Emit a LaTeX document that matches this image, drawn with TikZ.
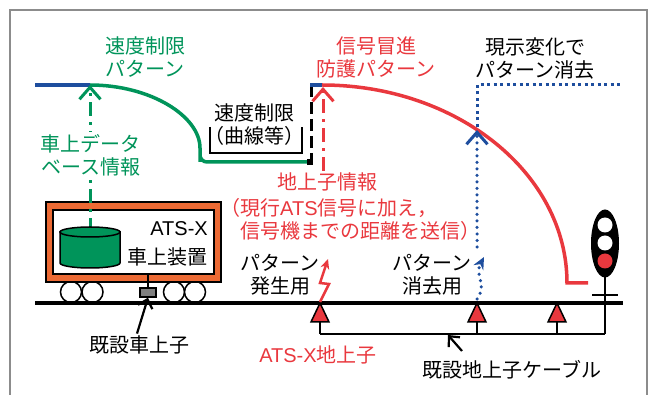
\documentclass[tikz,border=0pt]{standalone}
\usepackage{fontspec}
\setmainfont{Noto Sans CJK JP}
\newfontfamily\lat{Liberation Sans}
\usetikzlibrary{arrows.meta,calc}
\definecolor{pgreen}{RGB}{0,148,90}
\definecolor{pred}{RGB}{233,56,62}
\definecolor{pblue}{RGB}{30,78,158}
\definecolor{porange}{RGB}{236,106,52}
\definecolor{pframe}{RGB}{140,140,140}
\begin{document}
\begin{tikzpicture}[x=1pt,y=-1pt,
  lbl/.style={font=\fontsize{20}{23}\selectfont, align=center, inner sep=0pt},
  chev/.style={-{Straight Barb[length=12pt,width=21pt,line width=3pt]}},
  chevk/.style={-{Straight Barb[length=8pt,width=15pt,line width=2.2pt]}, line width=2.2pt},
  dashdot/.style={dash pattern=on 14pt off 6pt on 3pt off 6pt},
  bluedots/.style={pblue, line width=3.5pt, line cap=round, dash pattern=on 0pt off 6.5pt},
  thin/.style={line width=1.5pt},
  coil/.style={thin, fill=pred},
]
\useasboundingbox (0,0) rectangle (649,395);

% outer frame
\draw[pframe, line width=1.5pt] (10,395) -- (10,10) -- (647,10) -- (647,395);

% key points
\coordinate (gtop) at (90,85);
\coordinate (slend) at (310,162);
\coordinate (rtop) at (322,85);
\coordinate (rend) at (588,283);
\coordinate (rtip) at (323,87);
\coordinate (btip) at (477,130);
\coordinate (cyltop) at (90,232);

% speed limit pattern (green)
\draw[pblue, line width=3.5pt] (35,85) -- (gtop);
\draw[pgreen, line width=3.5pt, rounded corners=7pt]
  (gtop) arc[start angle=-90, end angle=0, x radius=110, y radius=70]
  -- (200,162) -- (slend);
% curve-limit step (black dashed)
\draw[line width=3pt, dash pattern=on 12pt off 5pt] (311,85) -- (311,163);
\fill (slend) ++(-3,-3) rectangle ++(6,6);
% signal overrun protection pattern (red)
\draw[pblue, line width=3.5pt] (310,85) -- (rtop);
\draw[pred, line width=3.5pt]
  (rtop) arc[start angle=-90, end angle=0, x radius=245, y radius=198] -- (rend);
% pattern cancelled on aspect change (blue)
\draw[pblue, line width=3pt, dash pattern=on 3pt off 3.5pt] (477,127) -- (477,85) -- (621,85);

% bracket under the curve-limit label
\draw[thin] (210,127) -- (210,153) -- (302,153) -- (302,127);
\node[lbl] (curv) at (254,125) {速度制限\\（曲線等）};

% vehicle
\foreach \wx in {71,92.5,174,195}
  \draw[thin, fill=white] (\wx,292) circle[radius=10.5];
\draw[thin, fill=porange] (46,202) rectangle (221,282);
\draw[thin, fill=white] (53,210) rectangle (214,274);
\draw[thin] (148,274) -- (148,289);
\node[draw, thin, fill=gray, minimum width=16pt, minimum height=9pt, inner sep=0pt] (ant) at (148,292.5) {};

% on-board database link
\draw[pgreen, line width=3pt, dashdot, chev] (cyltop) -- (gtop);
\draw[thin, fill=pgreen] (60,232) -- (60,263) arc[start angle=180, end angle=0, x radius=30, y radius=5] -- (120,232) -- cycle;
\draw[thin, fill=pgreen] (cyltop) ellipse[x radius=30, y radius=5];
\node[lbl, text=pgreen, fill=white, inner sep=2pt] (dblbl) at (91,155) {車上データ\\ベース情報};
\node[lbl, align=right, anchor=east] (obu) at (208,244) {{\lat ATS-X}\\[5.5pt]車上装置};

% rail
\draw[line width=4pt] (35,303) -- (623,303);

% ground coils and cable
\foreach \cx/\nm in {320/c1,477/c2,557/c3}{
  \coordinate (\nm) at (\cx,334);
  \draw[coil] (\cx,303) -- (\cx+9,322) -- (\cx-9,322) -- cycle;
  \draw[thin] (\cx,322) -- (\nm);
}
\coordinate (sigbase) at (605,334);
\draw[thin] (c1) -- (sigbase);

% signal
\draw[thin] (605,277) -- (sigbase);
\draw[thin] (592,295) -- (618,295);
\fill (605,243.5) ellipse[x radius=14, y radius=34];
\fill[white] (605,225) circle[radius=7.5];
\fill[white] (605,243) circle[radius=7.5];
\fill[pred] (605,261) circle[radius=7.5];

% ground coil information to the car
\node[lbl, text=pred] (info) at (327,182) {地上子情報};
\node[lbl, text=pred, align=left, anchor=west] (infodet) at (240,219)
  {\llap{（}現行{\lat ATS}信号に加え，\\信号機までの距離を送信）};
\draw[pred, line width=3pt, dashdot, chev] (info.north -| rtip) ++(0,-2) -- (rtip);
\draw[pred, line width=2.5pt, line join=miter, -{Stealth[length=10pt,width=9pt]}]
  (320,302) -- (329,284) -- (320,283) -- (328,259);
\node[lbl] (gen) at (280,275) {パターン\\発生用};

% pattern cancel coil
\draw[bluedots, chev] (477,247) -- (btip);
\draw[bluedots, -{Stealth[length=12pt,width=11pt]}]
  (477,299) .. controls (488,284) and (474,276) .. (484,257);
\node[lbl] (ers) at (432,275) {パターン\\消去用};

% pattern labels
\node[lbl, text=pgreen] (spdpat) at (145,57) {速度制限\\パターン};
\node[lbl, text=pred] (prot) at (376,57) {信号冒進\\防護パターン};
\node[lbl] (erase) at (535,58) {現示変化で\\パターン消去};

% bottom labels
\node[lbl] (antlbl) at (139,345) {既設車上子};
\draw[chevk] (antlbl.north) ++(-2,-2) -- (ant.south);
\node[lbl, text=pred] (gclbl) at (318,355) {{\lat ATS-X}地上子};
\node[lbl] (cablbl) at (512,370) {既設地上子ケーブル};
\coordinate (cabtail) at (462,351);
\coordinate (cabpt) at (448,335);
\draw[chevk] (cabtail) -- (cabpt);
\end{tikzpicture}
\end{document}
